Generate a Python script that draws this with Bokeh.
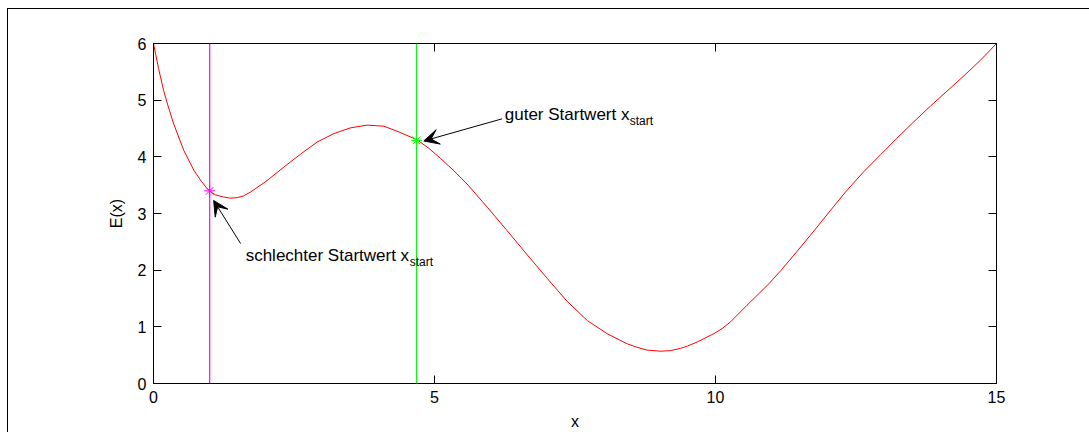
from bokeh.plotting import figure
from bokeh.models import (Range1d, LinearAxis, FixedTicker, Span, Arrow, VeeHead,
                          Label, InlineStyleSheet)
from bokeh.embed import file_html
from bokeh.resources import INLINE

# Energy curve E(x) sampled along x
x_vals = [0.0, 0.09, 0.18, 0.27, 0.36, 0.54, 0.72, 0.85, 0.98, 1.10, 1.25, 1.37,
          1.49, 1.60, 1.73, 2.02, 2.32, 2.62, 2.91, 3.21, 3.50, 3.80, 4.10, 4.39,
          4.69, 4.90, 5.11, 5.35, 5.58, 5.94, 6.29, 6.65, 7.01, 7.36, 7.72, 8.07,
          8.43, 8.60, 8.78, 9.02, 9.20, 9.38, 9.50, 9.67, 9.97, 10.12, 10.27,
          10.56, 10.95, 11.16, 11.45, 11.75, 12.05, 12.34, 12.64, 12.94, 13.23,
          13.53, 13.83, 14.12, 14.42, 14.72, 15.0]
e_vals = [6.0, 5.56, 5.17, 4.86, 4.58, 4.11, 3.76, 3.57, 3.41, 3.33, 3.29, 3.27,
          3.28, 3.31, 3.38, 3.58, 3.82, 4.05, 4.26, 4.41, 4.51, 4.56, 4.54, 4.43,
          4.30, 4.15, 3.97, 3.75, 3.52, 3.11, 2.70, 2.27, 1.85, 1.45, 1.11, 0.88,
          0.70, 0.64, 0.59, 0.57, 0.58, 0.62, 0.66, 0.73, 0.88, 0.97, 1.09, 1.38,
          1.76, 1.99, 2.33, 2.69, 3.06, 3.41, 3.74, 4.04, 4.33, 4.62, 4.90, 5.16,
          5.43, 5.71, 6.0]

# Starting values
bad_start_x = [1.0]
bad_start_e = [3.40]
good_start_x = [4.68]
good_start_e = [4.29]

x_ticks = [0, 5, 10, 15]
y_ticks = [0, 1, 2, 3, 4, 5, 6]

FONT = "Liberation Sans"
INK = "#000000"

# thin window frame along the top and left edge of the page
frame_css = InlineStyleSheet(css="""
:host::after {
  content: "";
  position: absolute;
  left: 7px;
  top: 8px;
  width: 1082px;
  height: 424px;
  border-left: 1px solid #000;
  border-top: 1px solid #000;
  box-sizing: border-box;
  pointer-events: none;
  z-index: 10;
}
""")

p = figure(width=1089, height=432, output_backend="svg", toolbar_location=None,
           x_range=Range1d(0, 15), y_range=Range1d(0, 6),
           min_border_left=153, min_border_right=93,
           min_border_top=43, min_border_bottom=49,
           background_fill_color="white", border_fill_color="white",
           stylesheets=[frame_css])
p.xgrid.visible = False
p.ygrid.visible = False
p.outline_line_color = INK
p.outline_line_width = 1

p.add_layout(LinearAxis(), "right")
p.add_layout(LinearAxis(), "above")

for ax in p.axis:
    ax.axis_line_color = INK
    ax.major_tick_line_color = INK
    ax.major_tick_in = 8
    ax.major_tick_out = 0
    ax.minor_tick_line_color = None
    ax.major_label_text_font = FONT
    ax.major_label_text_font_size = "16px"
    ax.major_label_text_color = INK
    ax.axis_label_text_font = FONT
    ax.axis_label_text_font_size = "16px"
    ax.axis_label_text_font_style = "normal"
    ax.axis_label_text_color = INK

for ax in p.xaxis:
    ax.ticker = FixedTicker(ticks=x_ticks)
for ax in p.yaxis:
    ax.ticker = FixedTicker(ticks=y_ticks)

p.below[0].axis_label = "x"
p.below[0].major_label_standoff = 7
p.below[0].axis_label_standoff = 7
p.left[0].axis_label = "E(x)"
p.left[0].major_label_standoff = 7
p.left[0].axis_label_standoff = 10
# box axes: ticks only, no labels
p.right[0].major_label_text_color = None
p.above[0].major_label_text_color = None

# Vertical markers for the two starting values
p.add_layout(Span(location=bad_start_x[0], dimension="height",
                  line_color="#ff00ff", line_width=1.2))
p.add_layout(Span(location=good_start_x[0], dimension="height",
                  line_color="#00ff00", line_width=1))

p.line(x_vals, e_vals, line_color="#ff0000", line_width=1)

p.scatter(bad_start_x, bad_start_e, marker="asterisk", size=11,
          line_color="#ff00ff", line_width=1)
p.scatter(good_start_x, good_start_e, marker="asterisk", size=11,
          line_color="#00ff00", line_width=1)

# Annotations with arrows
p.add_layout(Arrow(end=VeeHead(size=15, fill_color="black", line_color="black"),
                   x_start=6.20, y_start=4.67, x_end=4.81, y_end=4.28,
                   line_color="black", line_width=1))
p.add_layout(Arrow(end=VeeHead(size=15, fill_color="black", line_color="black"),
                   x_start=1.55, y_start=2.47, x_end=1.07, y_end=3.23,
                   line_color="black", line_width=1))

# main text plus subscript, the subscript placed right after the main text
good_text = "guter Startwert x"
bad_text = "schlechter Startwert x"
p.add_layout(Label(x=6.25, y=4.74, text=good_text, text_font=FONT,
                   text_font_size="17px", text_color=INK,
                   text_baseline="alphabetic"))
p.add_layout(Label(x=6.25, y=4.74, x_offset=125, y_offset=-6, text="start",
                   text_font=FONT, text_font_size="12px", text_color=INK,
                   text_baseline="alphabetic"))
p.add_layout(Label(x=1.64, y=2.26, text=bad_text, text_font=FONT,
                   text_font_size="17px", text_color=INK,
                   text_baseline="alphabetic"))
p.add_layout(Label(x=1.64, y=2.26, x_offset=164, y_offset=-7, text="start",
                   text_font=FONT, text_font_size="12px", text_color=INK,
                   text_baseline="alphabetic"))

open("out.html", "w").write(file_html(p, INLINE))
